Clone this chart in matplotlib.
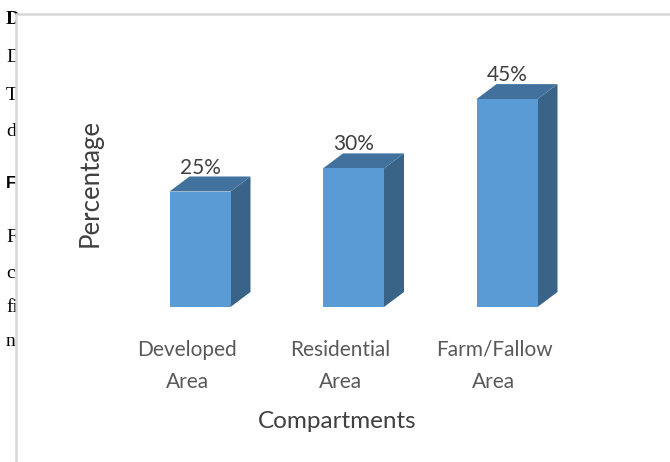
import matplotlib.pyplot as plt
from matplotlib.patches import Rectangle, Polygon

categories = ['Developed\nArea', 'Residential\nArea', 'Farm/Fallow\nArea']
values = [25, 30, 45]
value_labels = ['25%', '30%', '45%']

# fragments of the page text that show to the left of the chart
page_letters = [('D', 20, 'bold'), ('D', 58, 'normal'), ('T', 95, 'normal'),
                ('d', 132, 'normal'), ('F', 238, 'normal'), ('c', 273, 'normal'),
                ('fi', 307, 'normal'), ('n', 342, 'normal')]

W, H = 670, 462
fig = plt.figure(figsize=(6.7, 4.62), dpi=100)
fig.patch.set_facecolor('white')

for txt, y, wt in page_letters:
    fig.text(6 / W, 1 - y / H, txt, family='Liberation Serif', fontsize=14,
             fontweight=wt, va='center', ha='left', color='black', zorder=0)
fig.text(6 / W, 1 - 183 / H, 'F', family='Liberation Sans', fontsize=12,
         fontweight='bold', va='center', ha='left', color='black', zorder=0)

# white chart panel pasted over the page
panel = Rectangle((16 / W, -0.1), 1.2, 1 - 14 / H + 0.1, transform=fig.transFigure,
                  facecolor='white', edgecolor='#d6d6d6', linewidth=1.8, zorder=1)
fig.patches.append(panel)

# axes: 153.5 px per category, 4.62 px per percent, baseline at y=307 px
ax = fig.add_axes([123.25 / W, (H - 307) / H, 460.5 / W, 55 * 4.62 / H], zorder=2)
ax.set_xlim(-0.5, 2.5)
ax.set_ylim(0, 55)
ax.axis('off')
ax.patch.set_alpha(0)

front = '#5b9bd5'
top = '#41719c'
side = '#3a6388'
bw = 61 / 153.5
dx = 20 / 153.5
dy = 15 / 4.62

for i, v in enumerate(values):
    x0 = i - bw / 2
    x1 = i + bw / 2
    ax.add_patch(Polygon([(x1, 0), (x1 + dx, dy), (x1 + dx, v + dy), (x1, v)],
                         closed=True, facecolor=side, edgecolor='none'))
    ax.add_patch(Polygon([(x0, v), (x1, v), (x1 + dx, v + dy), (x0 + dx, v + dy)],
                         closed=True, facecolor=top, edgecolor='none'))
    ax.add_patch(Rectangle((x0, 0), bw, v, facecolor=front, edgecolor='none'))
    ax.annotate(value_labels[i], (i, v), xytext=(0, 24), textcoords='offset pixels',
                ha='center', va='center', family='Lato', fontsize=15,
                color='#404040', annotation_clip=False)
    ax.annotate(categories[i], (i, 0), xytext=(-13, -59), textcoords='offset pixels',
                ha='center', va='center', family='Lato', fontsize=15,
                color='#595959', linespacing=1.75, annotation_clip=False)

fig.text(337 / W, 1 - 422 / H, 'Compartments', family='Lato', fontsize=17.5,
         color='#404040', ha='center', va='center', zorder=3)
fig.text(90 / W, 1 - 183 / H, 'Percentage', family='Lato', fontsize=18.5,
         color='#404040', ha='center', va='center', rotation=90, zorder=3)

fig.savefig('out.png', dpi=100)
